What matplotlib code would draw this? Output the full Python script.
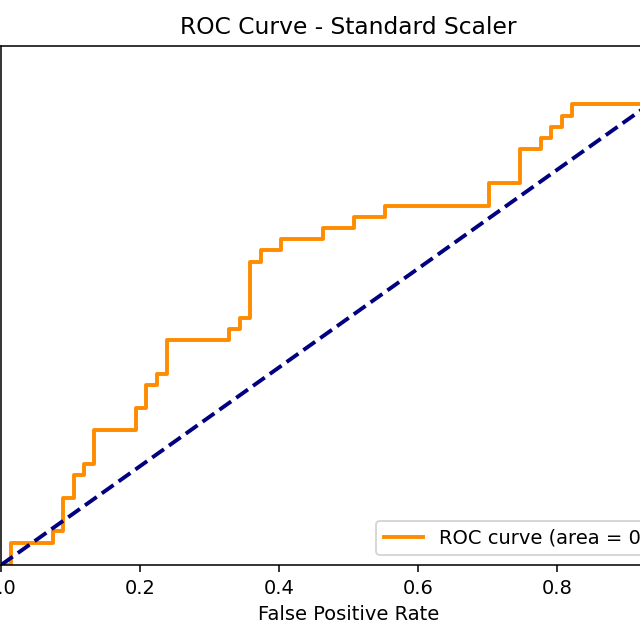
import numpy as np
import matplotlib
matplotlib.use("Agg")
import matplotlib.pyplot as plt

# ROC corner points (67 negatives, 44 positives)
n_neg = 67
n_pos = 44
fp_counts = [0, 1, 1, 5, 5, 6, 6, 7, 7, 8, 8, 9, 9, 13, 13, 14, 14, 15, 15, 16, 16,
             22, 22, 23, 23, 24, 24, 25, 25, 27, 27, 31, 31, 34, 34, 37, 37, 47, 47,
             50, 50, 52, 52, 53, 53, 54, 54, 55, 55, 67, 67]
tp_counts = [0, 0, 2, 2, 3, 3, 6, 6, 8, 8, 9, 9, 12, 12, 14, 14, 16, 16, 17, 17, 20,
             20, 21, 21, 22, 22, 27, 27, 28, 28, 29, 29, 30, 30, 31, 31, 32, 32, 34,
             34, 37, 37, 38, 38, 39, 39, 40, 40, 41, 41, 44]

fpr = np.array(fp_counts) / n_neg
tpr = np.array(tp_counts) / n_pos
roc_auc = np.trapezoid(tpr, fpr)

# original figure was cropped on both sides, so the axes run past the canvas
fig = plt.figure(figsize=(640 / 140, 640 / 140), dpi=140)
ax = fig.add_axes([1 / 640, 75 / 640, 695.5 / 640, 519 / 640])

ax.plot(fpr, tpr, color="darkorange", lw=2, label="ROC curve (area = %0.2f)" % roc_auc)
ax.plot([0, 1], [0, 1], color="navy", lw=2, linestyle="--")
ax.set_xlim([0.0, 1.0])
ax.set_ylim([0.0, 1.05])
ax.set_xlabel("False Positive Rate")
ax.set_ylabel("True Positive Rate")
ax.set_title("ROC Curve - Standard Scaler")
ax.legend(loc="lower right")
# y ticks sit outside the cropped area in the reference
ax.tick_params(axis="y", length=0)

fig.savefig("out.png", dpi=140)
